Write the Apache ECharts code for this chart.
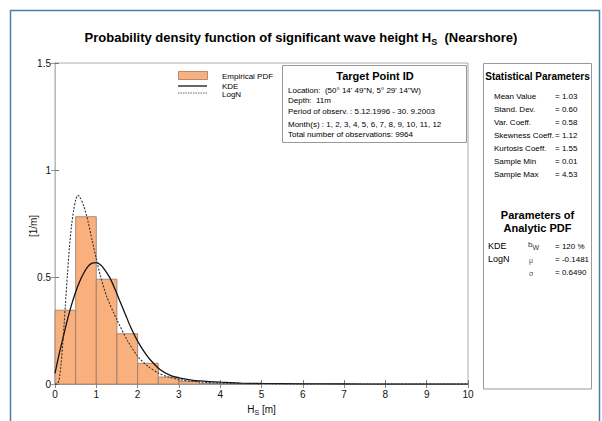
<!DOCTYPE html>
<html>
<head>
<meta charset="utf-8">
<script src="https://cdn.jsdelivr.net/npm/echarts@6/dist/echarts.min.js"></script>
<style>
html,body{margin:0;padding:0;background:#fff;}
#chart{width:602px;height:421px;}
</style>
</head>
<body>
<div id="chart"></div>
<script>
// ---- data ----
var binStarts = [0, 0.5, 1, 1.5, 2, 2.5, 3, 3.5, 4, 4.5];
var binWidth = 0.5;
var empiricalPdf = [0.345, 0.782, 0.490, 0.235, 0.097, 0.033, 0.012, 0.003, 0.001, 0.001];

var kdeX = [0, 0.1, 0.2, 0.3, 0.4, 0.5, 0.6, 0.7, 0.8, 0.9, 1.0, 1.1, 1.2, 1.33, 1.45, 1.57, 1.7, 1.82, 1.95, 2.06, 2.2, 2.3, 2.54, 2.78, 3.03, 3.27, 3.5, 4.0, 4.5, 5, 6, 7, 8, 10];
var kdeY = [0.05, 0.14, 0.22, 0.30, 0.37, 0.43, 0.48, 0.52, 0.55, 0.565, 0.567, 0.557, 0.535, 0.496, 0.445, 0.388, 0.328, 0.271, 0.219, 0.181, 0.14, 0.115, 0.068, 0.042, 0.028, 0.020, 0.015, 0.009, 0.005, 0.003, 0.001, 0.0005, 0.0002, 0];

var logNX = [0, 0.05, 0.1, 0.15, 0.2, 0.25, 0.3, 0.35, 0.4, 0.45, 0.5, 0.55, 0.6, 0.7, 0.8, 0.9, 1.0, 1.1, 1.25, 1.5, 1.75, 2.0, 2.25, 2.5, 2.75, 3.0, 3.5, 4.0, 5.0, 6.0, 10];
var logNY = [0, 0.001, 0.02, 0.10, 0.22, 0.365, 0.51, 0.64, 0.74, 0.81, 0.86, 0.882, 0.875, 0.83, 0.76, 0.67, 0.585, 0.505, 0.41, 0.30, 0.205, 0.13, 0.083, 0.052, 0.033, 0.021, 0.01, 0.005, 0.001, 0.0003, 0];

var xTicks = [0, 1, 2, 3, 4, 5, 6, 7, 8, 9, 10];
var yTicks = [0, 0.5, 1, 1.5];

var legendNames = ['Empirical PDF', 'KDE', 'LogN'];

var statLabels = ['Mean Value', 'Stand. Dev.', 'Var. Coeff.', 'Skewness Coeff.', 'Kurtosis Coeff.', 'Sample Min', 'Sample Max'];
var statValues = ['= 1.03', '= 0.60', '= 0.58', '= 1.12', '= 1.55', '= 0.01', '= 4.53'];

var targetLines = [
  'Location:  (50\u00b0 14\' 49"N, 5\u00b0 29\' 14"W)',
  'Depth:  11m',
  'Period of observ. : 5.12.1996 - 30. 9.2003',
  'Month(s) : 1, 2, 3, 4, 5, 6, 7, 8, 9, 10, 11, 12',
  'Total number of observations: 9964'
];

// ---- chart ----
var FONT = '"Liberation Sans", Arial, Helvetica, sans-serif';
var chart = echarts.init(document.getElementById('chart'), null, {renderer: 'svg'});

function pairs(xs, ys) { return xs.map(function (x, i) { return [x, ys[i]]; }); }

var histData = binStarts.map(function (s, i) { return [s, s + binWidth, empiricalPdf[i]]; });

var graphics = [];
// outer frame
graphics.push({type: 'rect', shape: {x: 10.5, y: 10.5, width: 589, height: 440}, style: {fill: 'none', stroke: '#4d7ea6', lineWidth: 1.5}, silent: true, z: 0});
// y axis title
graphics.push({type: 'text', x: 33, y: 226, rotation: Math.PI / 2, style: {text: '[1/m]', font: '10px ' + FONT, fill: '#111', align: 'center', verticalAlign: 'middle'}, z: 11});
// legend (drawn as graphics)
graphics.push({type: 'rect', shape: {x: 178.5, y: 71.5, width: 29, height: 8}, style: {fill: '#f9b07c', stroke: '#a07a60', lineWidth: 0.8}, z: 10});
graphics.push({type: 'line', shape: {x1: 178, y1: 86, x2: 207, y2: 86}, style: {stroke: '#000', lineWidth: 1.2}, z: 10});
graphics.push({type: 'line', shape: {x1: 178, y1: 93, x2: 207, y2: 93}, style: {stroke: '#666', lineWidth: 1, lineDash: [1.5, 1]}, z: 10});
var legY = [76, 86, 94];
legendNames.forEach(function (t, i) {
  graphics.push({type: 'text', x: 222, y: legY[i], style: {text: t, font: '8px ' + FONT, fill: '#000', verticalAlign: 'middle'}, z: 11});
});
// target box
graphics.push({type: 'rect', shape: {x: 282.5, y: 65.5, width: 184, height: 77}, style: {fill: '#fff', stroke: '#999', lineWidth: 1}, z: 10});
graphics.push({type: 'text', x: 375, y: 76, style: {text: 'Target Point ID', font: 'bold 11px ' + FONT, fill: '#000', align: 'center', verticalAlign: 'middle'}, z: 11});
var tY = [90, 100.5, 111, 124, 134];
targetLines.forEach(function (t, i) {
  graphics.push({type: 'text', x: 288, y: tY[i], style: {text: t, font: '8px ' + FONT, fill: '#000', verticalAlign: 'middle'}, z: 11});
});
// stats box
graphics.push({type: 'rect', shape: {x: 483.5, y: 63.5, width: 108, height: 325.5}, style: {fill: '#fff', stroke: '#999', lineWidth: 1}, z: 10});
graphics.push({type: 'text', x: 537.5, y: 76, style: {text: 'Statistical Parameters', font: 'bold 10px ' + FONT, fill: '#000', align: 'center', verticalAlign: 'middle'}, z: 11});
statLabels.forEach(function (t, i) {
  var y = 96 + i * 13;
  graphics.push({type: 'text', x: 494, y: y, style: {text: t, font: '8px ' + FONT, fill: '#000', verticalAlign: 'middle'}, z: 11});
  graphics.push({type: 'text', x: 555, y: y, style: {text: statValues[i], font: '8px ' + FONT, fill: '#000', verticalAlign: 'middle'}, z: 11});
});
graphics.push({type: 'text', x: 537.5, y: 215, style: {text: 'Parameters of', font: 'bold 11px ' + FONT, fill: '#000', align: 'center', verticalAlign: 'middle'}, z: 11});
graphics.push({type: 'text', x: 537.5, y: 228, style: {text: 'Analytic PDF', font: 'bold 11px ' + FONT, fill: '#000', align: 'center', verticalAlign: 'middle'}, z: 11});
graphics.push({type: 'text', x: 488, y: 246, style: {text: 'KDE', font: '9px ' + FONT, fill: '#000', verticalAlign: 'middle'}, z: 11});
graphics.push({type: 'text', x: 488, y: 259, style: {text: 'LogN', font: '9px ' + FONT, fill: '#000', verticalAlign: 'middle'}, z: 11});
graphics.push({type: 'text', x: 528, y: 244, style: {text: '{a|b}{s|W}', rich: {a: {font: '8px ' + FONT, fill: '#333'}, s: {font: '7px ' + FONT, fill: '#333', padding: [6, 0, 0, 0]}}, verticalAlign: 'middle'}, z: 11});
graphics.push({type: 'text', x: 529, y: 260, style: {text: '\u03bc', font: '7px ' + FONT, fill: '#555', verticalAlign: 'middle'}, z: 11});
graphics.push({type: 'text', x: 529, y: 273, style: {text: '\u03c3', font: '7px ' + FONT, fill: '#555', verticalAlign: 'middle'}, z: 11});
graphics.push({type: 'text', x: 555, y: 246, style: {text: '= 120 %', font: '8px ' + FONT, fill: '#000', verticalAlign: 'middle'}, z: 11});
graphics.push({type: 'text', x: 555, y: 259, style: {text: '= -0.1481', font: '8px ' + FONT, fill: '#000', verticalAlign: 'middle'}, z: 11});
graphics.push({type: 'text', x: 555, y: 272, style: {text: '= 0.6490', font: '8px ' + FONT, fill: '#000', verticalAlign: 'middle'}, z: 11});

var axisLabelStyle = {fontFamily: FONT, fontSize: 10, color: '#111'};

var option = {
  backgroundColor: '#fff',
  animation: false,
  title: {
    text: '{t|Probability density function of significant wave height H}{s|S}{t|  (Nearshore)}',
    left: 'center', top: 23,
    textStyle: {
      rich: {
        t: {fontFamily: FONT, fontSize: 13, fontWeight: 'bold', color: '#000'},
        s: {fontFamily: FONT, fontSize: 9, fontWeight: 'bold', color: '#000', padding: [9, 0, 0, 0]}
      }
    }
  },
  grid: {left: 55, top: 63, width: 413, height: 326, show: true, borderColor: '#aaa', borderWidth: 1, backgroundColor: 'transparent'},
  xAxis: [{
    type: 'value', min: 0, max: 10, interval: 1,
    name: '{a|H}{s|S}{a| [m]}', nameLocation: 'middle', nameGap: 13,
    nameTextStyle: {rich: {a: {fontFamily: FONT, fontSize: 10, color: '#111'}, s: {fontFamily: FONT, fontSize: 7, color: '#111', padding: [7, 0, 0, 0]}}},
    axisLine: {show: true, lineStyle: {color: '#777'}},
    axisTick: {show: true, inside: true, length: 4, lineStyle: {color: '#777'}},
    axisLabel: Object.assign({margin: 5}, axisLabelStyle),
    splitLine: {show: false}
  }, {
    type: 'value', min: 0, max: 10, interval: 1, position: 'top',
    axisLine: {show: true, lineStyle: {color: '#aaa'}},
    axisTick: {show: true, inside: true, length: 4, lineStyle: {color: '#888'}},
    axisLabel: {show: false}, splitLine: {show: false}
  }],
  yAxis: [{
    type: 'value', min: 0, max: 1.5, interval: 0.5,
    axisLine: {show: true, lineStyle: {color: '#777'}},
    axisTick: {show: true, inside: true, length: 4, lineStyle: {color: '#777'}},
    axisLabel: Object.assign({margin: 4, formatter: function (v) { return String(v); }}, axisLabelStyle),
    splitLine: {show: false}
  }, {
    type: 'value', min: 0, max: 1.5, interval: 0.5, position: 'right',
    axisLine: {show: true, lineStyle: {color: '#bbb'}},
    axisTick: {show: true, inside: true, length: 4, lineStyle: {color: '#999'}},
    axisLabel: {show: false}, splitLine: {show: false}
  }],
  graphic: graphics,
  series: [{
    name: 'Empirical PDF', type: 'custom', xAxisIndex: 0, yAxisIndex: 0,
    encode: {x: [0, 1], y: 2},
    itemStyle: {color: '#f9b07c'},
    renderItem: function (params, api) {
      var p0 = api.coord([api.value(0), api.value(2)]);
      var p1 = api.coord([api.value(1), 0]);
      return {type: 'rect', shape: {x: p0[0], y: p0[1], width: p1[0] - p0[0], height: p1[1] - p0[1]},
        style: {fill: '#f9b07c', stroke: '#8f7a6c', lineWidth: 0.8}};
    },
    data: histData, z: 2
  }, {
    name: 'KDE', type: 'line', data: pairs(kdeX, kdeY), smooth: 0.25, symbol: 'none',
    lineStyle: {color: '#111', width: 1.3}, itemStyle: {color: '#111'}, z: 4
  }, {
    name: 'LogN', type: 'line', data: pairs(logNX, logNY), smooth: 0.25, symbol: 'none',
    lineStyle: {color: '#333', width: 1.1, type: [2, 1.5]}, itemStyle: {color: '#888'}, z: 5
  }]
};
chart.setOption(option);
</script>
</body>
</html>
